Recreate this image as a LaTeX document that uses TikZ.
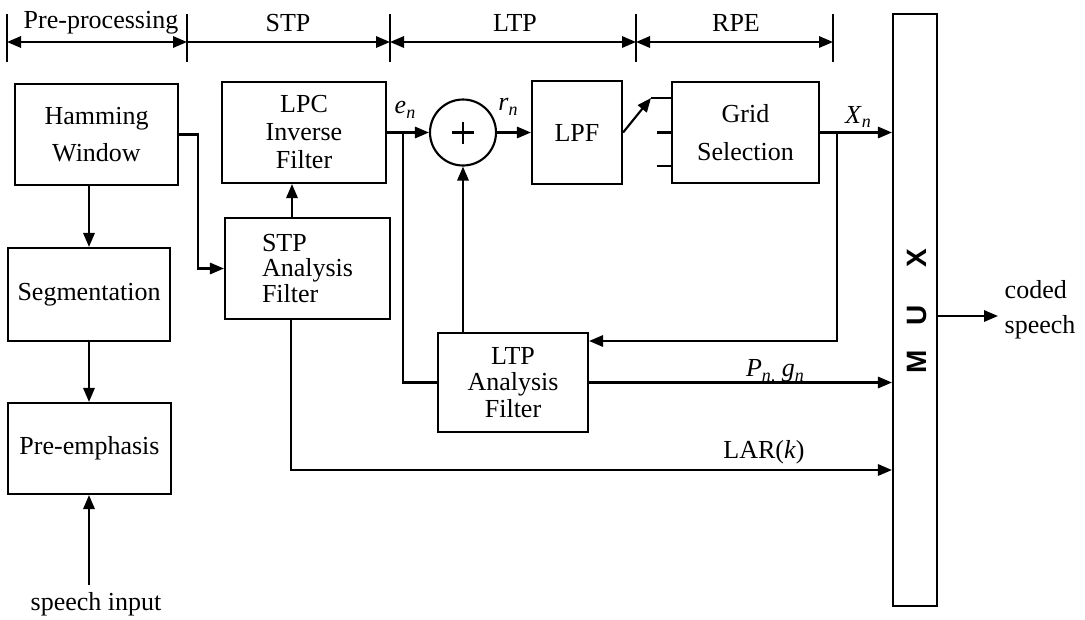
\documentclass[tikz,border=0pt]{standalone}
\usepackage{fontspec}
\setmainfont{Liberation Serif}
\setsansfont{Liberation Sans}
\usetikzlibrary{arrows.meta}
\newcommand{\sbs}[1]{\raisebox{-0.4ex}{\fontsize{13.5}{13.5}\selectfont\textit{#1}}}
\begin{document}
\begin{tikzpicture}[x=0.75pt,y=-0.75pt,
  every node/.style={font=\fontsize{19.5}{21}\selectfont},
  line/.style={line width=1.6pt},
  tip/.tip={Triangle[length=10.5pt,width=8.5pt]},
  arr/.style={line width=1.6pt,-tip},
  dbl/.style={line width=1.6pt,tip-tip},
  box/.style 2 args={draw,line width=1.6pt,inner sep=0pt,minimum width=#1*0.75pt,minimum height=#2*0.75pt,align=center},
  muxl/.style={rotate=90,font=\sffamily\bfseries\fontsize{21}{21}\selectfont},
]
\useasboundingbox (0,0) rectangle (1085,619);

% top bar
\foreach \n/\x in {t0/7,t1/187,t2/390,t3/636,t4/833}{
  \coordinate (\n a) at (\x,14);
  \coordinate (\n b) at (\x,62);
  \coordinate (\n) at (\x,42);
  \draw[line] (\n a) -- (\n b);
}
\draw[dbl] (t0) -- (t1);
\draw[arr] (t1) -- (t2);
\draw[dbl] (t2) -- (t3);
\draw[dbl] (t3) -- (t4);
\node (tpre) at (101,23) {Pre-processing};
\node (tstp) at (288,23) {STP};
\node (tltp) at (515,23) {LTP};
\node (trpe) at (736,23) {RPE};

% boxes
\node[box={163}{101}] (ham) at (96.5,134.5) {Hamming\\[7pt]Window};
\node[box={162}{93}] (seg) at (89,294.5) {Segmentation};
\node[box={163}{91}] (pre) at (89.5,448.5) {Pre-emphasis};
\node (spin) at (96,604) {speech input};

\node[box={164}{101}] (lpc) at (304,132.5) {LPC\\Inverse\\Filter};
\node[box={165}{101},align=left,font=\fontsize{19.5}{19}\selectfont] (stpa) at (307.5,268.5) {STP\\Analysis\\Filter};
\node[box={150}{99},font=\fontsize{19.5}{20}\selectfont] (ltpa) at (513,382.5) {LTP\\Analysis\\Filter};
\node[circle,draw,line width=1.6pt,minimum size=66*0.75pt,inner sep=0pt] (sum) at (463,132.5) {};
\draw[line width=2pt] (sum.center) ++(-11,0) -- ++(22,0);
\draw[line width=2pt] (sum.center) ++(0,-11) -- ++(0,22);
\node[box={90}{103}] (lpf) at (577,132.5) {LPF};
\node[box={147}{101}] (grid) at (745.5,132.5) {Grid\\[7pt]Selection};
\node[box={44}{592}] (mux) at (915,310) {};
\node[muxl] (mm) at (917,362) {M};
\node[muxl] (mu) at (917,315) {U};
\node[muxl] (mx) at (917,258) {X};

% labels
\node (en) at (405,110) {\textit{e}\sbs{n}};
\node (rn) at (508,107) {\textit{r}\sbs{n}};
\node (xn) at (858,117) {\textit{X}\sbs{n}};
\node (pg) at (775,372) {\textit{P}\sbs{n,}\ \textit{g}\sbs{n}};
\node (lar) at (764,452) {LAR(\textit{k})};
\node[align=left,anchor=west,font=\fontsize{19.5}{26}\selectfont] (cs) at (1000,310) {coded\\speech};

% connectors
\draw[arr] (ham.south -| seg.north) -- (seg.north);
\draw[arr] (seg.south) -- (pre.north -| seg.south);
\coordinate (sin) at (89,585);
\draw[arr] (sin) -- (sin |- pre.south);
\draw[arr] (ham.east) -- ++(19,0) |- (stpa.west);
\coordinate (a) at (292,0);
\draw[arr] (stpa.north -| a) -- (lpc.south -| a);
\draw[arr] (lpc.east) -- (sum.west);
\coordinate (br) at (403,132.5);
\draw[line] (br) |- (ltpa.west);
\draw[arr] (sum.south |- ltpa.north) -- (sum.south);
\draw[arr] (sum.east) -- (lpf.west);
\coordinate (sw) at (651,98);
\draw[arr] (lpf.east) -- (sw);
\draw[line] (sw) -- (sw -| grid.west);
\coordinate (s2) at (657,132.5);
\coordinate (s3) at (657,166);
\draw[line] (s2) -- (s2 -| grid.west);
\draw[line] (s3) -- (s3 -| grid.west);
\draw[arr] (grid.east) -- (grid.east -| mux.west);
\coordinate (xb) at (837,132.5);
\coordinate (fb) at (837,341);
\draw[arr] (xb) -- (fb) -- (fb -| ltpa.east);
\draw[arr] (ltpa.east) -- (ltpa.east -| mux.west);
\coordinate (lb) at (291,470);
\draw[arr] (stpa.south -| lb) -- (lb) -- (lb -| mux.west);
\coordinate (co) at (998,316);
\draw[arr] (co -| mux.east) -- (co);
\end{tikzpicture}
\end{document}
